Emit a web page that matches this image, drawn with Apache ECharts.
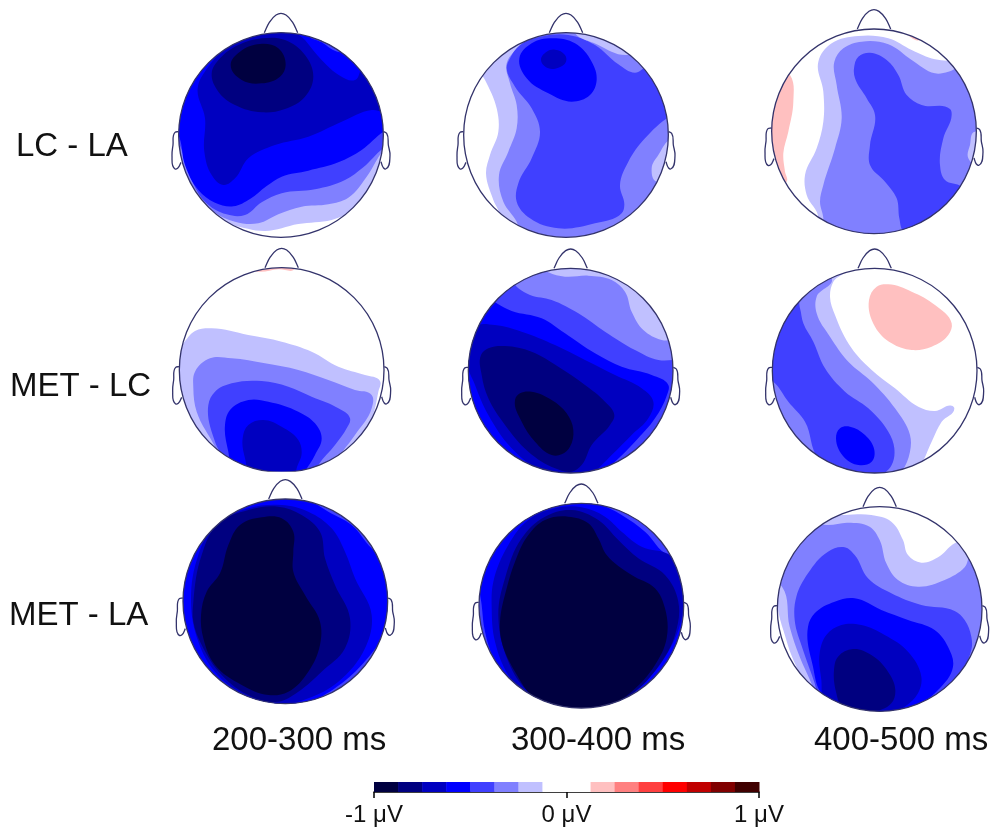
<!DOCTYPE html>
<html><head><meta charset="utf-8">
<style>html,body{margin:0;padding:0;background:#fff}#c{width:993px;height:828px}</style>
<script src="https://cdn.jsdelivr.net/npm/echarts@6/dist/echarts.min.js"></script>
</head><body><div id="c"></div>
<script>
// band of each contour: -7 (darkest blue) ... -1 (palest blue), 1 (palest red)
const rowLabels = ['LC - LA', 'MET - LC', 'MET - LA'];
const colLabels = ['200-300 ms', '300-400 ms', '400-500 ms'];
const scaleBandEdges = [-1,-0.875,-0.75,-0.625,-0.5,-0.375,-0.25,-0.125,0,0.125,0.25,0.375,0.5,0.625,0.75,0.875,1];
const scaleBandLevels = [-7,-6,-5,-4,-3,-2,-1,0,0,1,2,3,4,5,6,7];
const scaleTicks = [-1,0,1];

// Contours: [band, outline vertices] in scalp units (head radius about 307), painted in order
const LC_LA_200 = [
 [-1,[[200,660],[300,678],[400,657],[500,645],[560,622],[640,590],[720,500],[760,300],[760,-30],[-30,-30],[-50,500],[100,640]]],
 [-2,[[-30,400],[60,510],[140,615],[210,650],[280,655],[340,628],[410,605],[490,598],[550,578],[605,515],[660,430],[760,350],[760,-30],[-30,-30]]],
 [-3,[[-30,300],[44,420],[70,500],[120,590],[185,628],[240,630],[290,592],[350,565],[450,553],[540,525],[595,487],[655,430],[760,370],[760,-30],[-30,-30]]],
 [-4,[[-30,250],[44,400],[60,480],[100,555],[150,593],[205,604],[255,582],[305,543],[350,515],[430,497],[520,472],[590,435],[660,378],[760,340],[760,-30],[-30,-30]]],
 [-5,[[98,250],[120,340],[118,440],[140,510],[175,540],[210,520],[250,460],[330,420],[430,395],[530,350],[620,315],[700,325],[720,30],[340,60],[260,95],[190,125],[130,185]]],
 [-4,[[380,60],[420,105],[470,165],[525,212],[570,225],[585,200],[600,130],[500,50]]],
 [-3,[[430,85],[470,112],[525,142],[570,130],[500,60]]],
 [-6,[[140,205],[165,160],[220,120],[290,100],[360,105],[420,150],[445,215],[420,275],[360,312],[290,322],[210,300],[160,260]]],
 [-7,[[197,180],[225,140],[285,117],[340,130],[362,180],[345,215],[290,235],[230,225]]]
];
const LC_LA_300 = [
 [-1,[[70,190],[90,225],[125,310],[130,380],[105,450],[93,505],[115,585],[135,635],[110,700],[700,720],[720,30],[100,30]]],
 [-2,[[290,60],[200,120],[155,175],[165,235],[185,300],[185,370],[160,440],[132,510],[145,590],[185,650],[210,720],[720,720],[720,30],[300,30]]],
 [-3,[[165,160],[155,190],[180,245],[230,310],[255,380],[230,460],[190,535],[185,590],[225,640],[310,670],[420,655],[500,625],[508,600],[495,540],[520,470],[570,400],[650,330],[720,300],[720,170],[575,185],[540,203],[490,178],[420,120],[340,90],[250,97],[195,120]]],
 [-4,[[193,160],[230,115],[290,100],[360,115],[410,170],[425,225],[405,270],[350,290],[280,265],[215,220]]],
 [-5,[[258,165],[275,140],[300,134],[330,150],[333,170],[310,188],[280,190]]],
 [-1,[[360,70],[430,120],[515,150],[560,130],[480,70]]],
 [-1,[[650,400],[610,450],[590,490],[605,530],[680,490],[680,400]]]
];
const LC_LA_400 = [
 [1,[[70,190],[105,210],[115,290],[100,380],[85,445],[90,500],[95,530],[60,540],[20,400],[60,200]]],
 [1,[[410,60],[450,85],[495,105],[510,70]]],
 [-1,[[190,170],[205,260],[205,350],[185,430],[150,510],[155,570],[190,640],[150,720],[720,720],[720,120],[600,165],[540,163],[470,135],[400,100],[310,93],[230,115]]],
 [-2,[[238,170],[245,240],[260,340],[240,430],[205,540],[195,590],[205,640],[200,720],[720,720],[720,170],[615,185],[580,200],[540,205],[470,165],[400,118],[320,110],[265,130]]],
 [-3,[[297,190],[310,155],[345,143],[395,165],[430,210],[455,270],[500,300],[585,312],[590,330],[565,400],[555,480],[570,525],[620,545],[660,610],[520,720],[445,680],[433,640],[425,580],[390,530],[345,480],[345,420],[360,330],[335,280],[300,220]]],
 [-1,[[660,380],[645,420],[640,460],[670,480],[690,420]]]
];
const MET_LC_200 = [
 [1,[[245,70],[280,80],[340,73],[390,70],[370,40],[270,40]]],
 [-1,[[10,350],[55,295],[90,258],[140,250],[250,270],[350,290],[440,320],[520,365],[600,390],[645,408],[640,440],[620,520],[570,600],[500,680],[350,720],[100,720],[40,500]]],
 [-2,[[85,430],[90,380],[135,340],[200,340],[300,355],[400,375],[490,405],[570,435],[620,450],[620,490],[570,570],[500,660],[470,700],[190,690],[150,605],[95,500]]],
 [-3,[[130,480],[150,440],[200,415],[290,408],[370,425],[440,455],[520,490],[555,520],[545,550],[510,600],[460,660],[430,720],[200,720],[180,650],[150,590]]],
 [-4,[[180,540],[195,495],[250,465],[310,470],[400,500],[450,535],[470,580],[450,630],[420,680],[400,720],[220,720],[190,620]]],
 [-5,[[233,580],[250,540],[295,525],[350,545],[400,585],[410,625],[395,670],[385,720],[270,720],[240,640]]]
];
const MET_LC_300 = [
 [-1,[[0,0],[705,0],[705,720],[0,720]]],
 [-2,[[250,60],[280,82],[330,95],[400,92],[470,105],[510,140],[530,200],[565,255],[620,285],[700,290],[720,720],[0,720],[0,40]]],
 [-3,[[150,90],[190,130],[225,150],[290,165],[370,205],[450,260],[540,315],[610,345],[660,345],[720,340],[720,720],[0,720],[0,200]]],
 [-4,[[100,160],[125,175],[170,198],[260,220],[330,265],[420,325],[500,365],[590,390],[640,420],[636,450],[600,520],[540,590],[480,650],[420,700],[300,720],[0,720],[0,200]]],
 [-5,[[60,245],[120,240],[200,260],[300,300],[390,345],[480,390],[560,430],[595,470],[580,520],[530,570],[470,630],[410,685],[340,710],[260,680],[170,610],[100,510],[60,420],[30,330]]],
 [-6,[[78,330],[100,310],[150,303],[230,320],[310,365],[390,420],[450,470],[478,510],[465,540],[410,600],[380,660],[350,680],[300,670],[220,620],[150,540],[100,460],[80,390]]],
 [-7,[[180,465],[195,445],[230,440],[290,465],[335,505],[355,555],[345,605],[320,628],[290,630],[240,590],[200,530]]]
];
const MET_LC_400 = [
 [1,[[342,165],[365,125],[400,118],[470,140],[540,180],[590,235],[580,270],[530,305],[470,315],[410,295],[360,245]]],
 [-1,[[270,70],[235,110],[225,155],[240,210],[290,310],[350,375],[420,430],[490,485],[540,498],[590,482],[598,490],[560,530],[530,590],[495,665],[450,720],[0,720],[0,60]]],
 [-2,[[230,100],[185,155],[185,205],[225,275],[280,350],[350,410],[420,490],[465,570],[465,620],[440,680],[400,720],[0,720],[0,50]]],
 [-3,[[125,160],[135,190],[145,235],[175,290],[210,370],[270,440],[340,490],[400,560],[418,610],[410,660],[380,690],[320,720],[190,640],[150,530],[100,470],[55,410],[0,380],[0,200]]],
 [-4,[[243,580],[255,550],[285,545],[330,570],[358,615],[350,650],[310,660],[270,640]]]
];
const MET_LA_200 = [
 [-3,[[0,0],[705,0],[705,720],[0,720]]],
 [-4,[[0,0],[420,70],[490,110],[560,150],[620,220],[720,300],[720,400],[640,510],[560,600],[470,665],[400,700],[300,720],[0,720]]],
 [-5,[[78,380],[100,240],[150,150],[250,100],[350,90],[430,110],[500,160],[540,230],[570,310],[620,420],[600,520],[520,620],[430,670],[340,690],[240,660],[150,590],[100,500]]],
 [-6,[[85,380],[110,240],[160,145],[250,105],[340,95],[410,120],[465,170],[480,250],[510,330],[555,430],[540,520],[470,590],[400,650],[340,680],[260,665],[170,600],[110,510],[85,440]]],
 [-7,[[108,420],[125,350],[165,295],[190,210],[225,150],[290,127],[350,130],[385,170],[385,230],[385,290],[420,360],[465,440],[465,510],[430,590],[370,650],[310,660],[230,630],[150,570],[115,490]]]
];
const MET_LA_300 = [
 [-3,[[0,0],[705,0],[705,720],[0,720]]],
 [-4,[[300,40],[400,85],[470,120],[540,170],[610,240],[720,240],[720,720],[200,720],[90,560],[60,470],[50,390],[40,300],[100,100]]],
 [-5,[[80,400],[85,320],[130,210],[190,135],[270,100],[350,97],[420,125],[470,170],[530,215],[615,240],[660,300],[650,430],[610,530],[540,620],[440,690],[340,720],[200,680],[130,600],[90,500]]],
 [-6,[[100,420],[120,310],[170,190],[240,125],[320,105],[400,135],[460,195],[520,250],[600,300],[640,380],[630,480],[590,560],[510,650],[420,700],[300,710],[190,650],[130,560]]],
 [-7,[[105,440],[125,340],[150,260],[190,180],[240,135],[310,125],[370,145],[400,190],[425,240],[500,300],[570,340],[600,400],[605,490],[570,570],[500,650],[430,695],[340,720],[210,670],[150,590],[110,500]]]
];
const MET_LA_400 = [
 [-1,[[720,150],[720,720],[200,720],[130,590],[100,525],[82,470],[62,400],[55,330],[80,220],[150,150],[205,110],[260,105],[340,105],[400,125],[435,180],[450,225],[490,248],[540,232],[590,190]]],
 [-2,[[150,120],[205,135],[270,128],[335,140],[365,180],[385,250],[420,300],[480,320],[560,300],[620,262],[640,225],[720,220],[720,720],[200,720],[160,610],[125,530],[95,440],[72,320],[40,300]]],
 [-3,[[115,350],[150,280],[210,215],[260,202],[290,225],[330,295],[400,340],[490,375],[590,393],[620,420],[640,470],[640,510],[600,590],[540,650],[450,700],[200,720],[170,610],[135,510],[110,420]]],
 [-4,[[150,440],[170,400],[230,365],[290,355],[370,390],[450,420],[530,450],[570,500],[585,560],[540,630],[470,680],[300,720],[190,640],[165,560]]],
 [-5,[[185,520],[205,465],[250,435],[310,435],[380,465],[450,515],[490,590],[480,640],[440,680],[330,720],[200,660],[190,600]]],
 [-6,[[228,570],[240,530],[285,507],[340,525],[390,575],[412,630],[400,670],[340,695],[250,675],[235,640]]]
];
const panelMaps = [LC_LA_200,LC_LA_300,LC_LA_400,MET_LC_200,MET_LC_300,MET_LC_400,MET_LA_200,MET_LA_300,MET_LA_400];
const headCentres = [[348,390],[333,390],[357,379],[350,375],[347,377],[359,377],[361,379],[349,392],[365,387]];
const headRadius = 307;
const noseOutline = [[-50,-307],[-35,-338],[-15,-360],[0,-365],[15,-360],[35,-338],[50,-307]];
const leftEarOutline = [[-308,-10],[-318,-8],[-324,30],[-327,62],[-318,102],[-310,100],[-300,82]];
const rightEarOutline = [[308,-10],[317,-5],[322,30],[327,62],[314,102],[307,98],[300,80]];

// --- presentation ---
const levelColor = {'-7':'#000040','-6':'#000080','-5':'#0000c0','-4':'#0000ff','-3':'#4040ff','-2':'#8080ff','-1':'#c0c0ff',
 '0':'#ffffff','1':'#ffc0c0','2':'#ff8080','3':'#ff4040','4':'#ff0000','5':'#c00000','6':'#800000','7':'#400000'};
const panelOrigins = [[165,5],[455,5],[755,5],[165,245],[455,245],[755,245],[165,475],[465,475],[758,480]];
const OUTLINE = '#33336b';

function spline(pts, closed){
  const n = pts.length;
  const unit=(a,b)=>{const l=Math.hypot(b[0]-a[0],b[1]-a[1])||1;return [(b[0]-a[0])/l,(b[1]-a[1])/l];};
  const at = i => closed ? pts[(i+n)%n] : pts[Math.max(0,Math.min(n-1,i))];
  const tan = i => {
    const u=unit(at(i-1),at(i)),v=unit(at(i),at(i+1));
    const x=u[0]+v[0],y=u[1]+v[1],l=Math.hypot(x,y)||1;
    return [x/l,y/l];
  };
  let d = 'M'+pts[0][0].toFixed(2)+' '+pts[0][1].toFixed(2);
  const segs = closed ? n : n-1;
  for(let i=0;i<segs;i++){
    const p=at(i),q=at(i+1),s=Math.min(Math.hypot(p[0]-q[0],p[1]-q[1])*0.36,36),t1=tan(i),t2=tan(i+1);
    const c1=[p[0]+t1[0]*s,p[1]+t1[1]*s],c2=[q[0]-t2[0]*s,q[1]-t2[1]*s];
    d+='C'+[c1[0],c1[1],c2[0],c2[1],q[0],q[1]].map(v=>v.toFixed(2)).join(' ');
  }
  return d+(closed?'Z':'');
}

const grids=[],xAxes=[],yAxes=[],series=[];
panelOrigins.forEach((o,k)=>{
  grids.push({left:o[0],top:o[1],width:235,height:240});
  xAxes.push({type:'value',gridIndex:k,min:0,max:705,show:false});
  yAxes.push({type:'value',gridIndex:k,min:0,max:720,inverse:true,show:false});
  const contours=panelMaps[k], c=headCentres[k];
  series.push({type:'custom',coordinateSystem:'cartesian2d',xAxisIndex:k,yAxisIndex:k,silent:true,animation:false,clip:false,z:2,
    data:contours.map(x=>[x[0]]),
    renderItem(params,api){
      const item=contours[params.dataIndex];
      const cc=api.coord(c), r=api.coord([c[0]+headRadius,c[1]])[0]-cc[0];
      return {type:'path',shape:{pathData:spline(item[1].map(p=>api.coord(p)),true)},
        style:{fill:levelColor[item[0]],stroke:null},
        clipPath:{type:'circle',shape:{cx:cc[0],cy:cc[1],r:r}}};
    }});
  series.push({type:'custom',coordinateSystem:'cartesian2d',xAxisIndex:k,yAxisIndex:k,silent:true,animation:false,clip:false,z:3,
    data:[[0]],
    renderItem(params,api){
      const cc=api.coord(c), r=api.coord([c[0]+headRadius,c[1]])[0]-cc[0];
      const off=ol=>ol.map(p=>api.coord([c[0]+p[0],c[1]+p[1]]));
      const st={fill:null,stroke:OUTLINE,lineWidth:1.3};
      const kids=[{type:'circle',shape:{cx:cc[0],cy:cc[1],r:r},style:st},
        {type:'path',shape:{pathData:spline(off(noseOutline),false)},style:st},
        {type:'path',shape:{pathData:spline(off(leftEarOutline),false)},style:st},
        {type:'path',shape:{pathData:spline(off(rightEarOutline),false)},style:st}];
      if(k===3){ // this map is cropped flat at its lower edge in the source figure
        const a=api.coord([180,680]),b=api.coord([520,695]);
        kids.push({type:'rect',shape:{x:a[0],y:a[1],width:b[0]-a[0],height:b[1]-a[1]},style:{fill:'#fff'}});
      }
      return {type:'group',children:kids};
    }});
});

const sk=panelOrigins.length;
grids.push({left:374,top:782,width:385,height:10});
xAxes.push({type:'value',gridIndex:sk,min:-1,max:1,interval:1,splitLine:{show:false},
  axisLine:{show:true,onZero:false,lineStyle:{color:'#000',width:1.5}},
  axisTick:{show:true,length:6,lineStyle:{color:'#000',width:1.5}},
  axisLabel:{fontFamily:'Liberation Sans',fontSize:24,color:'#111',margin:11,formatter:v=>scaleTicks.includes(v)?v+' μV':'',hideOverlap:false}});
yAxes.push({type:'value',gridIndex:sk,min:0,max:1,show:false});
series.push({type:'custom',coordinateSystem:'cartesian2d',xAxisIndex:sk,yAxisIndex:sk,silent:true,animation:false,z:2,
  encode:{x:[0,1],y:2},
  data:scaleBandLevels.map((l,i)=>[scaleBandEdges[i],scaleBandEdges[i+1],0,l]),
  renderItem(params,api){
    const a=api.coord([api.value(0),1]),b=api.coord([api.value(1),0]);
    return {type:'rect',shape:{x:a[0],y:a[1],width:b[0]-a[0]+0.5,height:b[1]-a[1]},style:{fill:levelColor[api.value(3)]}};
  }});

const tx=(t,x,y)=>({type:'text',left:x,top:y,style:{text:t,fontFamily:'Liberation Sans',fontSize:33,fill:'#111'}});
const graphic=[
  tx(rowLabels[0],16,130),tx(rowLabels[1],10,370),tx(rowLabels[2],9,599),
  tx(colLabels[0],212,724),tx(colLabels[1],511,724),tx(colLabels[2],814,724)
];
const chart=echarts.init(document.getElementById('c'),null,{renderer:'canvas'});
chart.setOption({animation:false,backgroundColor:'#fff',grid:grids,xAxis:xAxes,yAxis:yAxes,series,graphic});
</script></body></html>
